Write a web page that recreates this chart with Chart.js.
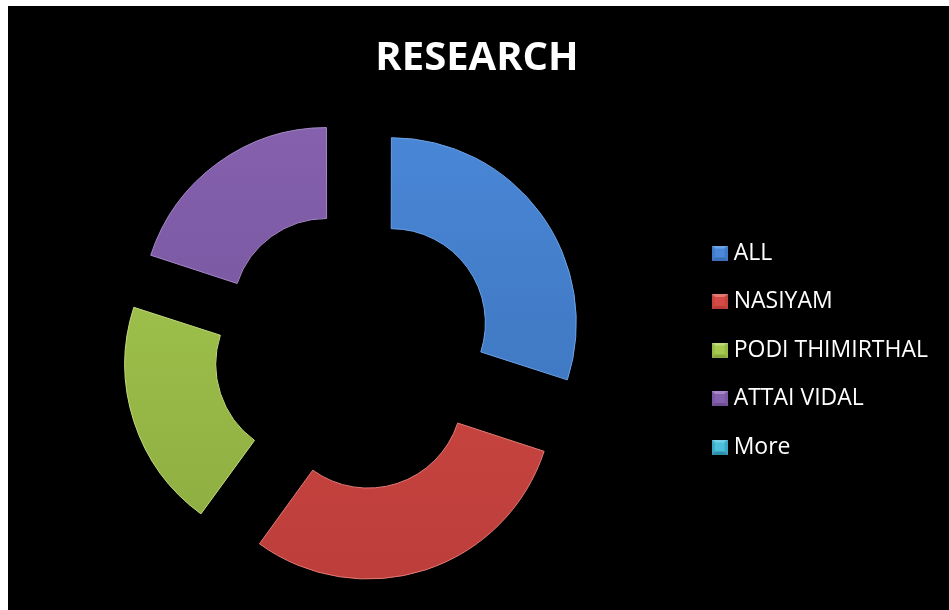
<!DOCTYPE html>
<html>
<head>
<meta charset="utf-8">
<script src="https://cdn.jsdelivr.net/npm/chart.js@4.4.0/dist/chart.umd.min.js"></script>
<style>
  body { margin: 6px 0 0 8px; background: #fff; }
  #wrap { width: 941px; height: 604px; background: #000; }
</style>
</head>
<body>
<div id="wrap"><canvas id="chart"></canvas></div>
<script>
const categories = ['ALL', 'NASIYAM', 'PODI THIMIRTHAL', 'ATTAI VIDAL', 'More'];
const values = [3, 3, 2, 2, 0];

const baseColors = ['#3f7cc8', '#c9433e', '#98ba48', '#7b58a2', '#3aa9c4'];
const lightColors = ['#4a88d8', '#d44b45', '#a6ca4f', '#8762b0', '#4cc0dc'];
const darkColors = ['#3a6fb6', '#b93c3a', '#8aa83f', '#6e4f92', '#2f8fa8'];
const edgeColors = ['#6aa3e6', '#e27a74', '#c0da7c', '#a488c8', '#74d2e8'];

function sliceFill(ctx) {
    const i = ctx.dataIndex;
    const area = ctx.chart.chartArea;
    if (!area) return baseColors[i];
    const g = ctx.chart.ctx.createLinearGradient(0, area.top + 40, 0, area.bottom - 20);
    g.addColorStop(0, lightColors[i]);
    g.addColorStop(1, darkColors[i]);
    return g;
}

// small bevelled square for the legend
function legendBox(i) {
    const c = document.createElement('canvas');
    c.width = 16;
    c.height = 15;
    const g = c.getContext('2d');
    g.fillStyle = baseColors[i];
    g.fillRect(0, 0, 16, 15);
    g.fillStyle = edgeColors[i];
    g.beginPath();
    g.moveTo(0, 0); g.lineTo(16, 0); g.lineTo(8, 7); g.closePath();
    g.fill();
    g.fillStyle = darkColors[i];
    g.beginPath();
    g.moveTo(0, 15); g.lineTo(16, 15); g.lineTo(8, 9); g.closePath();
    g.fill();
    g.fillStyle = lightColors[i];
    g.fillRect(3, 3, 10, 9);
    return c;
}
const legendImages = categories.map((_, i) => legendBox(i));

new Chart(document.getElementById('chart'), {
    type: 'doughnut',
    data: {
        labels: categories,
        datasets: [{
            data: values,
            backgroundColor: sliceFill,
            borderColor: edgeColors,
            borderWidth: 1,
            offset: 184,
            hoverOffset: 0
        }]
    },
    options: {
        responsive: true,
        maintainAspectRatio: false,
        animation: false,
        radius: 183,
        cutout: '50.3%',
        layout: { padding: { left: 8, right: 11, top: 0, bottom: 0 } },
        plugins: {
            tooltip: { enabled: false },
            title: {
                display: true,
                text: 'RESEARCH',
                color: '#ffffff',
                font: { family: 'Open Sans', size: 40, weight: 'bold' },
                padding: { top: 28.6, bottom: 7.4 }
            },
            legend: {
                position: 'right',
                fullSize: false,
                labels: {
                    color: '#ffffff',
                    font: { family: 'Open Sans', size: 23 },
                    padding: 25.5,
                    usePointStyle: true,
                    pointStyleWidth: 5,
                    generateLabels: chart => {
                        const items = Chart.overrides.doughnut.plugins.legend.labels.generateLabels(chart);
                        return items.map((it, i) => Object.assign(it, { pointStyle: legendImages[i] }));
                    }
                }
            }
        }
    }
});
</script>
</body>
</html>
